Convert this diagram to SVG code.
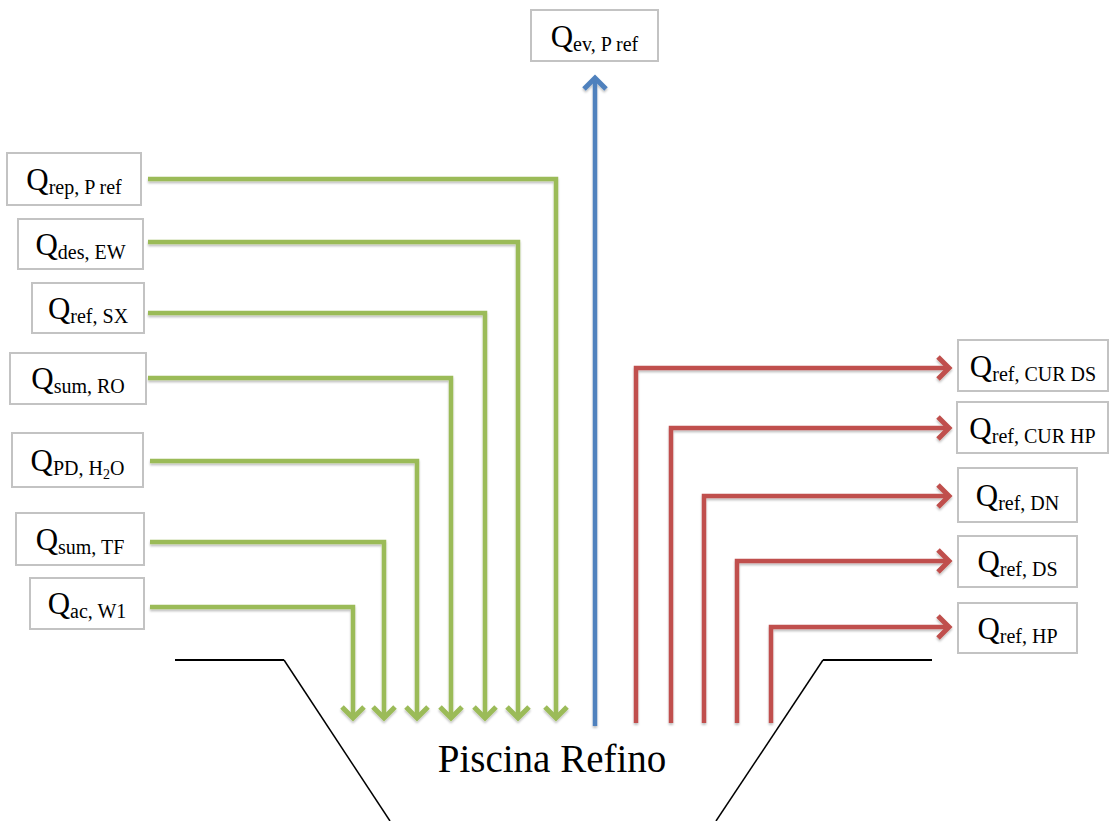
<svg xmlns="http://www.w3.org/2000/svg" width="1110" height="821" viewBox="0 0 1110 821">
  <style>
    .box { fill: #ffffff; stroke: #c3c3c3; stroke-width: 2; }
    .lbl { font-size: 31px; fill: #000000; text-anchor: middle; }
    .sub { font-size: 20px; }
    .sub2 { font-size: 14px; }
    .green { fill: none; stroke: #9bbb59; stroke-width: 4.5; stroke-linejoin: miter; marker-end: url(#arrGreen); }
    .red { fill: none; stroke: #c0504d; stroke-width: 4.5; stroke-linejoin: miter; marker-end: url(#arrRed); }
    .blue { fill: none; stroke: #4f81bd; stroke-width: 4.5; marker-end: url(#arrBlue); }
    .pool { fill: none; stroke: #000000; }
    .title { font-size: 39px; fill: #000000; text-anchor: middle; }
  </style>
  <defs>
    <filter id="shadow" x="-10%" y="-10%" width="120%" height="120%">
      <feDropShadow dx="0" dy="2" stdDeviation="1.2" flood-color="#000000" flood-opacity="0.25"/>
    </filter>
    <marker id="arrGreen" markerUnits="userSpaceOnUse" markerWidth="30" markerHeight="30" viewBox="-15 -15 30 30" refX="0" refY="0" orient="auto" overflow="visible">
      <path d="M -11 -11 L 0 0 L -11 11" fill="none" stroke="#9bbb59" stroke-width="5" stroke-linejoin="miter"/>
    </marker>
    <marker id="arrRed" markerUnits="userSpaceOnUse" markerWidth="30" markerHeight="30" viewBox="-15 -15 30 30" refX="0" refY="0" orient="auto" overflow="visible">
      <path d="M -11 -11 L 0 0 L -11 11" fill="none" stroke="#c0504d" stroke-width="5" stroke-linejoin="miter"/>
    </marker>
    <marker id="arrBlue" markerUnits="userSpaceOnUse" markerWidth="30" markerHeight="30" viewBox="-15 -15 30 30" refX="0" refY="0" orient="auto" overflow="visible">
      <path d="M -11 -11 L 0 0 L -11 11" fill="none" stroke="#4f81bd" stroke-width="5" stroke-linejoin="miter"/>
    </marker>
  </defs>

  <rect width="1110" height="821" fill="#ffffff"/>

  <!-- pool outline -->
  <g id="pool">
    <path class="pool" d="M175 660 H284" stroke-width="2"/>
    <path class="pool" d="M284 660 L390 821" stroke-width="1.5"/>
    <path class="pool" d="M932 660 H823" stroke-width="2"/>
    <path class="pool" d="M823 660 L716 821" stroke-width="1.5"/>
    <text class="title" font-family="Liberation Serif, DejaVu Serif, serif" x="552" y="772">Piscina Refino</text>
  </g>

  <!-- flows into and out of the pool -->
  <g id="connectors" filter="url(#shadow)">
    <path class="green" d="M148 179 H556 V718"/>
    <path class="green" d="M148 242 H518 V718"/>
    <path class="green" d="M148 313 H485 V718"/>
    <path class="green" d="M148 378 H451 V718"/>
    <path class="green" d="M150 461 H417 V718"/>
    <path class="green" d="M150 542 H384 V718"/>
    <path class="green" d="M150 607 H353 V718"/>
    <path class="blue" d="M595 726 V78"/>
    <path class="red" d="M636 723 V368 H949"/>
    <path class="red" d="M671 723 V428 H949"/>
    <path class="red" d="M704 723 V496 H949"/>
    <path class="red" d="M737 723 V561 H949"/>
    <path class="red" d="M771 723 V627 H949"/>
  </g>

  <g font-family="Liberation Serif, DejaVu Serif, serif">
    <g id="q-ev-pref">
      <rect class="box" x="531" y="10" width="127" height="51"/>
      <text class="lbl" x="594.5" y="47">Q<tspan class="sub" dy="4">ev, P ref</tspan></text>
    </g>

    <g id="q-rep-pref">
      <rect class="box" x="7" y="153" width="134" height="52"/>
      <text class="lbl" x="74" y="190">Q<tspan class="sub" dy="4">rep, P ref</tspan></text>
    </g>
    <g id="q-des-ew">
      <rect class="box" x="18" y="219" width="125" height="50"/>
      <text class="lbl" x="80.5" y="255">Q<tspan class="sub" dy="4">des, EW</tspan></text>
    </g>
    <g id="q-ref-sx">
      <rect class="box" x="32" y="283" width="112" height="50"/>
      <text class="lbl" x="88" y="319">Q<tspan class="sub" dy="4">ref, SX</tspan></text>
    </g>
    <g id="q-sum-ro">
      <rect class="box" x="10" y="353" width="136" height="51"/>
      <text class="lbl" x="78" y="389">Q<tspan class="sub" dy="4">sum, RO</tspan></text>
    </g>
    <g id="q-pd-h2o">
      <rect class="box" x="12" y="433" width="131" height="54"/>
      <text class="lbl" x="77.5" y="471">Q<tspan class="sub" dy="4">PD, H</tspan><tspan class="sub2" dy="4">2</tspan><tspan class="sub" dy="-4">O</tspan></text>
    </g>
    <g id="q-sum-tf">
      <rect class="box" x="16" y="513" width="128" height="52"/>
      <text class="lbl" x="80" y="550">Q<tspan class="sub" dy="4">sum, TF</tspan></text>
    </g>
    <g id="q-ac-w1">
      <rect class="box" x="30" y="578" width="114" height="51"/>
      <text class="lbl" x="87" y="614">Q<tspan class="sub" dy="4">ac, W1</tspan></text>
    </g>

    <g id="q-ref-cur-ds">
      <rect class="box" x="958" y="340" width="150" height="51"/>
      <text class="lbl" x="1033" y="377">Q<tspan class="sub" dy="4">ref, CUR DS</tspan></text>
    </g>
    <g id="q-ref-cur-hp">
      <rect class="box" x="957" y="402" width="151" height="51"/>
      <text class="lbl" x="1032.5" y="439">Q<tspan class="sub" dy="4">ref, CUR HP</tspan></text>
    </g>
    <g id="q-ref-dn">
      <rect class="box" x="958" y="468" width="119" height="54"/>
      <text class="lbl" x="1017.5" y="506">Q<tspan class="sub" dy="4">ref, DN</tspan></text>
    </g>
    <g id="q-ref-ds">
      <rect class="box" x="958" y="536" width="119" height="51"/>
      <text class="lbl" x="1017.5" y="572">Q<tspan class="sub" dy="4">ref, DS</tspan></text>
    </g>
    <g id="q-ref-hp">
      <rect class="box" x="958" y="603" width="119" height="50"/>
      <text class="lbl" x="1017.5" y="639">Q<tspan class="sub" dy="4">ref, HP</tspan></text>
    </g>
  </g>
</svg>
